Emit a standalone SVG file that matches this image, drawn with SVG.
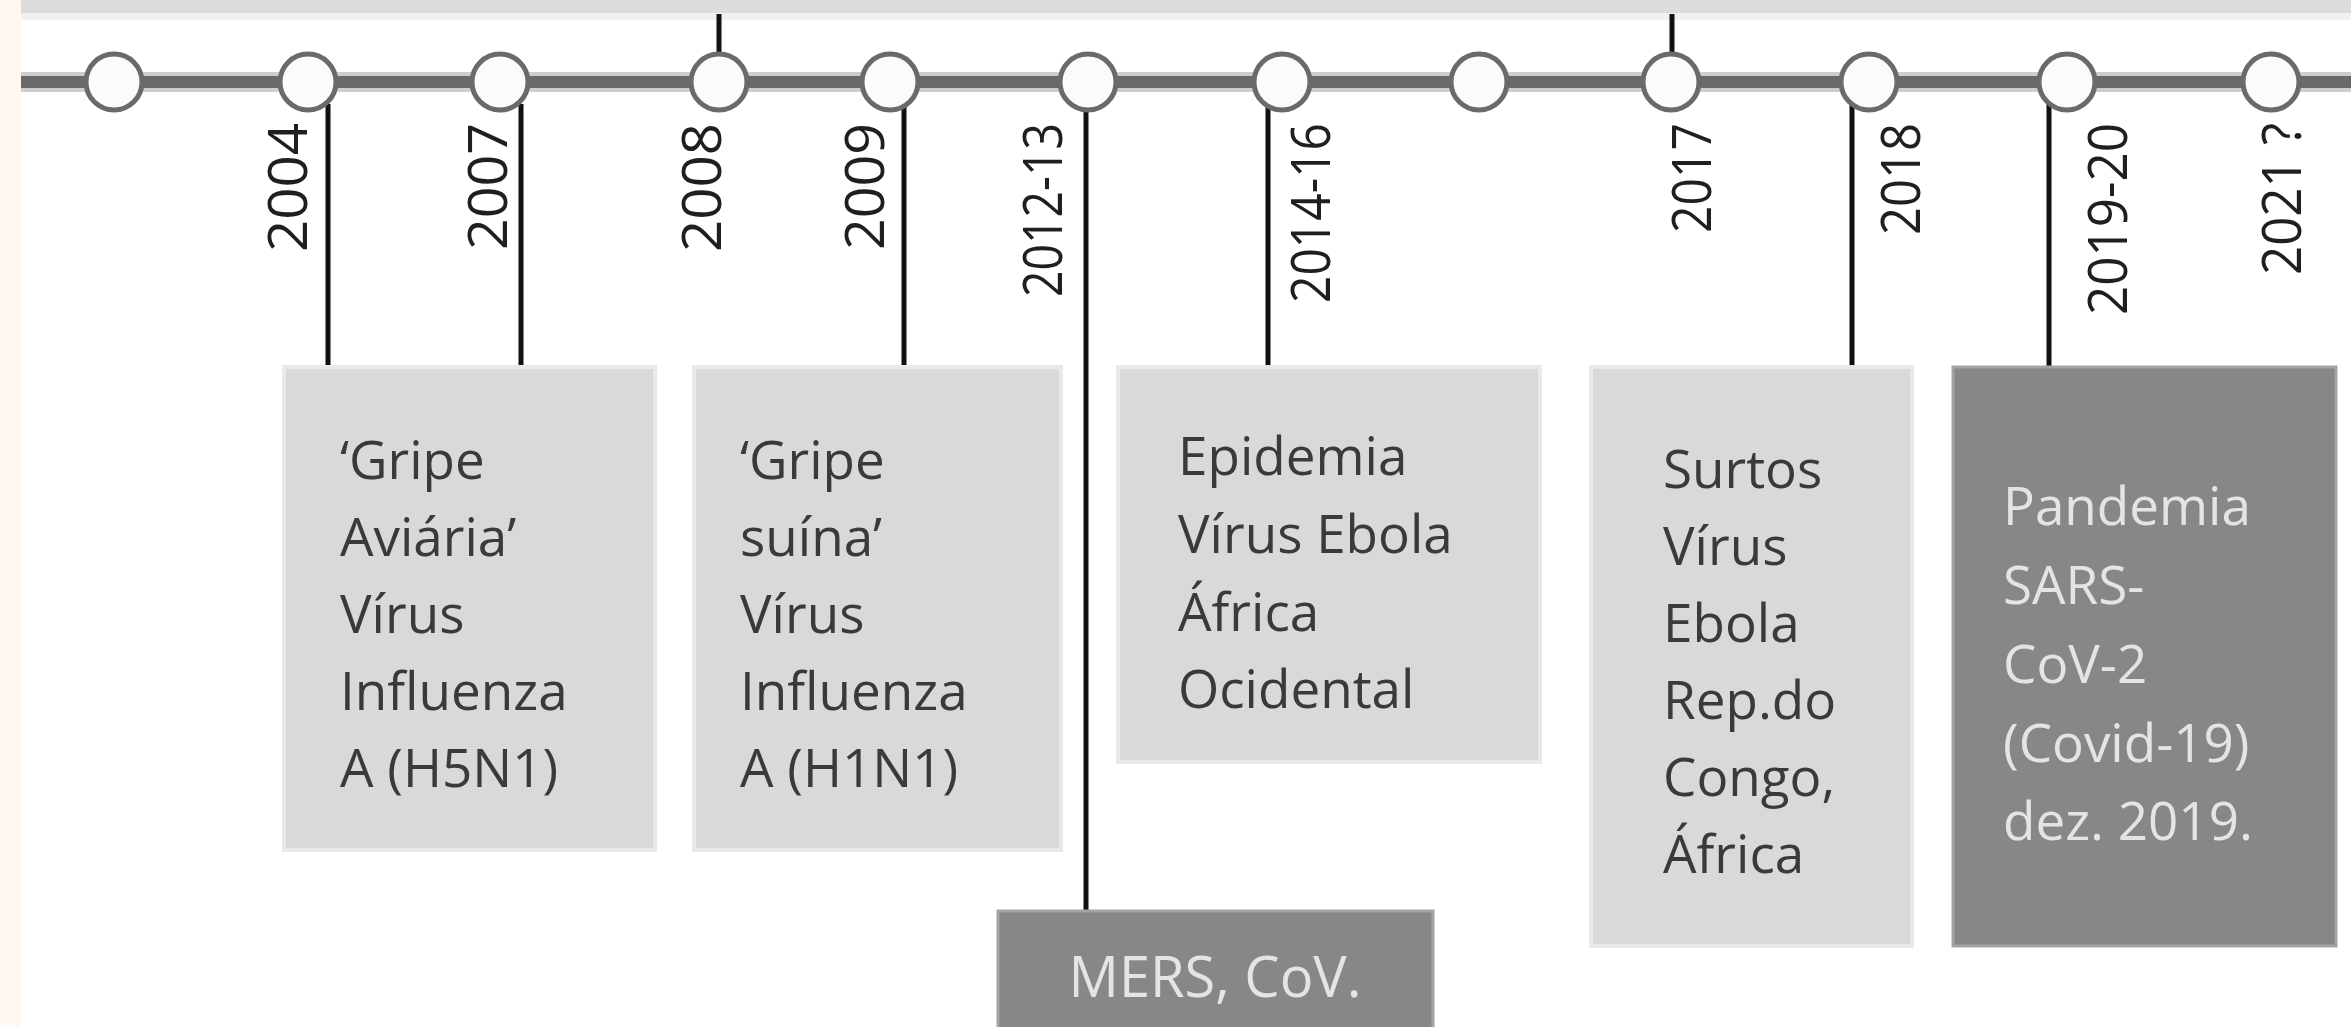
<svg xmlns="http://www.w3.org/2000/svg" width="2351" height="1027" viewBox="0 0 2351 1027">
<defs>
<style>
.box-l{fill:#d9d9d9;stroke:#e9e9e9;stroke-width:4}
.box-d{fill:#878787;stroke:#a3a3a3;stroke-width:3}
.txt-l{font-family:"Open Sans","Noto Sans",sans-serif;font-size:53px;fill:#3a3a3a}
.txt-d{font-family:"Open Sans","Noto Sans",sans-serif;font-size:53px;fill:#e4e4e4}
.year{font-family:"Open Sans","Noto Sans",sans-serif;font-size:55px;fill:#1f1f1f}
.conn{stroke:#111;stroke-width:5;fill:none}
.node-c{fill:#fbfbfb;stroke:#6a6a6a;stroke-width:5}
</style>
</defs>
<rect x="0" y="0" width="2351" height="1027" fill="#ffffff"/>
<rect x="0" y="0" width="21" height="1027" fill="#fff8f0"/>
<rect x="21" y="0" width="2330" height="13" fill="#dcdcdc"/>
<rect x="21" y="13" width="2330" height="7" fill="#f1f1f1"/>

<g id="timeline">
<line x1="21" y1="82" x2="2351" y2="82" stroke="#cdcdcd" stroke-width="20"/>
<line x1="21" y1="82" x2="2351" y2="82" stroke="#6a6a6a" stroke-width="12"/>
</g>

<g id="connectors">
<line class="conn" x1="328" y1="104" x2="328" y2="367"/>
<line class="conn" x1="521" y1="104" x2="521" y2="367"/>
<line class="conn" x1="719" y1="14" x2="719" y2="56"/>
<line class="conn" x1="904" y1="106" x2="904" y2="367"/>
<line class="conn" x1="1086" y1="109" x2="1086" y2="910"/>
<line class="conn" x1="1268" y1="106" x2="1268" y2="367"/>
<line class="conn" x1="1672" y1="14" x2="1672" y2="56"/>
<line class="conn" x1="1852" y1="104" x2="1852" y2="367"/>
<line class="conn" x1="2049" y1="104" x2="2049" y2="367"/>
</g>

<g id="nodes-timeline">
<circle class="node-c" cx="114" cy="82" r="28"/>
<circle class="node-c" cx="308" cy="82" r="28"/>
<circle class="node-c" cx="500" cy="82" r="28"/>
<circle class="node-c" cx="719" cy="82" r="28"/>
<circle class="node-c" cx="890" cy="82" r="28"/>
<circle class="node-c" cx="1088" cy="82" r="28"/>
<circle class="node-c" cx="1282" cy="82" r="28"/>
<circle class="node-c" cx="1479" cy="82" r="28"/>
<circle class="node-c" cx="1671" cy="82" r="28"/>
<circle class="node-c" cx="1869" cy="82" r="28"/>
<circle class="node-c" cx="2067" cy="82" r="28"/>
<circle class="node-c" cx="2271" cy="82" r="28"/>
</g>

<g id="years">
<text class="year" transform="translate(307,123) rotate(-90)" text-anchor="end" textLength="129" lengthAdjust="spacingAndGlyphs">2004</text>
<text class="year" transform="translate(507,123) rotate(-90)" text-anchor="end" textLength="127" lengthAdjust="spacingAndGlyphs">2007</text>
<text class="year" transform="translate(721,123) rotate(-90)" text-anchor="end" textLength="129" lengthAdjust="spacingAndGlyphs">2008</text>
<text class="year" transform="translate(884,123) rotate(-90)" text-anchor="end" textLength="127" lengthAdjust="spacingAndGlyphs">2009</text>
<text class="year" transform="translate(1062,123) rotate(-90)" text-anchor="end" textLength="174" lengthAdjust="spacingAndGlyphs">2012-13</text>
<text class="year" transform="translate(1330,123) rotate(-90)" text-anchor="end" textLength="180" lengthAdjust="spacingAndGlyphs">2014-16</text>
<text class="year" transform="translate(1711,123) rotate(-90)" text-anchor="end" textLength="110" lengthAdjust="spacingAndGlyphs">2017</text>
<text class="year" transform="translate(1920,123) rotate(-90)" text-anchor="end" textLength="112" lengthAdjust="spacingAndGlyphs">2018</text>
<text class="year" transform="translate(2127,123) rotate(-90)" text-anchor="end" textLength="192" lengthAdjust="spacingAndGlyphs">2019-20</text>
<text class="year" transform="translate(2301,123) rotate(-90)" text-anchor="end" textLength="152" lengthAdjust="spacingAndGlyphs">2021 ?</text>
</g>

<g id="node-gripe-aviaria">
<rect class="box-l" x="284" y="367" width="371" height="483"/>
<text class="txt-l">
<tspan x="340" y="479">‘Gripe</tspan>
<tspan x="340" y="556">Aviária’</tspan>
<tspan x="340" y="633">Vírus</tspan>
<tspan x="340" y="710">Influenza</tspan>
<tspan x="340" y="787">A (H5N1)</tspan>
</text>
</g>

<g id="node-gripe-suina">
<rect class="box-l" x="694" y="367" width="367" height="483"/>
<text class="txt-l">
<tspan x="740" y="479">‘Gripe</tspan>
<tspan x="740" y="556">suína’</tspan>
<tspan x="740" y="633">Vírus</tspan>
<tspan x="740" y="710">Influenza</tspan>
<tspan x="740" y="787">A (H1N1)</tspan>
</text>
</g>

<g id="node-mers">
<rect class="box-d" x="998" y="911" width="435" height="130"/>
<text class="txt-d" x="1215" y="997" text-anchor="middle" style="font-size:56px">MERS, CoV.</text>
</g>

<g id="node-ebola-africa">
<rect class="box-l" x="1118" y="367" width="422" height="395"/>
<text class="txt-l">
<tspan x="1178" y="475">Epidemia</tspan>
<tspan x="1178" y="553">Vírus Ebola</tspan>
<tspan x="1178" y="631">África</tspan>
<tspan x="1178" y="708">Ocidental</tspan>
</text>
</g>

<g id="node-ebola-congo">
<rect class="box-l" x="1591" y="367" width="321" height="579"/>
<text class="txt-l">
<tspan x="1663" y="488">Surtos</tspan>
<tspan x="1663" y="565">Vírus</tspan>
<tspan x="1663" y="642">Ebola</tspan>
<tspan x="1663" y="719">Rep.do</tspan>
<tspan x="1663" y="796">Congo,</tspan>
<tspan x="1663" y="873">África</tspan>
</text>
</g>

<g id="node-covid">
<rect class="box-d" x="1953" y="367" width="383" height="579"/>
<text class="txt-d">
<tspan x="2003" y="525">Pandemia</tspan>
<tspan x="2003" y="604">SARS-</tspan>
<tspan x="2003" y="683">CoV-2</tspan>
<tspan x="2003" y="762">(Covid-19)</tspan>
<tspan x="2003" y="840">dez. 2019.</tspan>
</text>
</g>
</svg>
